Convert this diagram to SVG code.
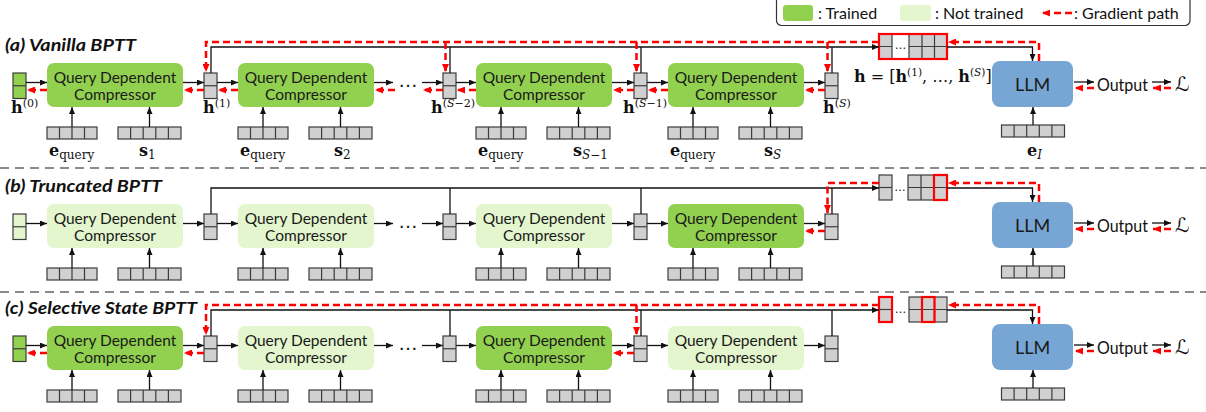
<svg xmlns="http://www.w3.org/2000/svg" xmlns:xlink="http://www.w3.org/1999/xlink" width="1206" height="412" viewBox="0 0 1206 412">
<style>
.tr{fill:#92D050}
.nt{fill:#E3F6CE}
.llm{fill:#78A6D4}
.cell{fill:#D0D0D0;stroke:#3C3C3C;stroke-width:1.2}
.cl{stroke:#3C3C3C;stroke-width:1.2;fill:none}
.bk{stroke:#111;stroke-width:1.3;fill:none}
.bka{stroke:#111;stroke-width:1.3;fill:none;marker-end:url(#ab)}
.rd{stroke:#FF0000;stroke-width:2.5;stroke-dasharray:7 4;fill:none}
.rda{stroke:#FF0000;stroke-width:2.5;stroke-dasharray:7 4;fill:none;marker-end:url(#ar)}
.ro{stroke:#FF0000;stroke-width:2.2;fill:none}
.sep{stroke:#8A8A8A;stroke-width:2;stroke-dasharray:9 6}
.ct{font-family:Lato,'Open Sans','Liberation Sans',sans-serif;font-size:15.5px;fill:#1a1a1a;text-anchor:middle}
.lt{font-family:Lato,'Open Sans','Liberation Sans',sans-serif;font-size:18px;fill:#1a1a1a;text-anchor:middle}
.lg{font-family:Lato,'Open Sans','Liberation Sans',sans-serif;font-size:16px;fill:#111}
.op{font-family:Lato,'Open Sans','Liberation Sans',sans-serif;font-size:17px;fill:#111}
.ti{font-family:Lato,'Open Sans','Liberation Sans',sans-serif;font-size:17px;font-weight:bold;font-style:italic;fill:#111}
.m{font-family:'DejaVu Serif','Liberation Serif',serif;font-size:16px;fill:#111}
.sc{font-family:'DejaVu Serif','DejaVu Sans',serif;font-size:20px;fill:#111;font-style:italic}
.dots{font-family:'Liberation Sans',sans-serif;fill:#111}
</style>
<defs>
<marker id="ab" viewBox="0 0 7 6" refX="7" refY="3" markerWidth="7" markerHeight="6" markerUnits="userSpaceOnUse" orient="auto"><path d="M0,0 L7,3 L0,6 z" fill="#111"/></marker>
<marker id="ar" viewBox="0 0 8 7" refX="8" refY="3.5" markerWidth="8" markerHeight="7" markerUnits="userSpaceOnUse" orient="auto"><path d="M0,0 L8,3.5 L0,7 z" fill="#FF0000"/></marker>
<g id="e4"><rect width="50" height="12" class="cell"/><path d="M12.5,0V12M25,0V12M37.5,0V12" class="cl"/></g>
<g id="s5"><rect width="63" height="12" class="cell"/><path d="M12.6,0V12M25.2,0V12M37.8,0V12M50.4,0V12" class="cl"/></g>
<g id="hb"><rect width="13" height="25.5" class="cell"/><path d="M0,12.75H13" class="cl"/></g>
</defs>
<rect width="1206" height="412" fill="#fff"/>

<!-- legend -->
<g id="legend">
<rect x="776.5" y="-5" width="413.5" height="30.5" rx="5" fill="#fff" stroke="#333" stroke-width="1.2"/>
<rect x="783" y="5" width="30" height="16" rx="3" class="tr"/>
<text class="lg" x="818" y="18.5">: Trained</text>
<rect x="900" y="5" width="31" height="16" rx="3" class="nt"/>
<text class="lg" x="935" y="18.5">: Not trained</text>
<path d="M1072,13 H1042" class="rda"/>
<text class="lg" x="1074" y="18.5">: Gradient path</text>
</g>

<!-- titles and separators -->
<g id="titles">
<text class="ti" x="5" y="51" textLength="131" lengthAdjust="spacingAndGlyphs">(a) Vanilla BPTT</text>
<text class="ti" x="5" y="192" textLength="157" lengthAdjust="spacingAndGlyphs">(b) Truncated BPTT</text>
<text class="ti" x="5" y="314" textLength="192" lengthAdjust="spacingAndGlyphs">(c) Selective State BPTT</text>
<line x1="0" y1="168" x2="1206" y2="168" class="sep"/>
<line x1="0" y1="292" x2="1206" y2="292" class="sep"/>
</g>

<!-- ===== panel (a) nodes ===== -->
<g id="a-h0"><rect x="13" y="73" width="13" height="25.5" fill="#92D050" stroke="#3C3C3C" stroke-width="1.2"/><path d="M13,85.75H26" class="cl"/></g>
<g id="a-comp1"><rect x="47" y="63" width="136" height="44" rx="7" class="tr"/><text class="ct" x="115" y="82.5">Query Dependent</text><text class="ct" x="115" y="99.5">Compressor</text></g>
<g id="a-h1"><use href="#hb" x="204" y="73"/></g>
<g id="a-comp2"><rect x="238" y="63" width="136" height="44" rx="7" class="tr"/><text class="ct" x="306" y="82.5">Query Dependent</text><text class="ct" x="306" y="99.5">Compressor</text></g>
<g id="a-hS2"><use href="#hb" x="443" y="73"/></g>
<g id="a-comp3"><rect x="476" y="63" width="136" height="44" rx="7" class="tr"/><text class="ct" x="544" y="82.5">Query Dependent</text><text class="ct" x="544" y="99.5">Compressor</text></g>
<g id="a-hS1"><use href="#hb" x="634" y="73"/></g>
<g id="a-comp4"><rect x="668" y="63" width="136" height="44" rx="7" class="tr"/><text class="ct" x="736" y="82.5">Query Dependent</text><text class="ct" x="736" y="99.5">Compressor</text></g>
<g id="a-hS"><use href="#hb" x="825" y="73"/></g>
<g id="a-in1e"><use href="#e4" x="47" y="127"/></g>
<g id="a-in1s"><use href="#s5" x="118" y="127"/></g>
<g id="a-in2e"><use href="#e4" x="238" y="127"/></g>
<g id="a-in2s"><use href="#s5" x="309" y="127"/></g>
<g id="a-in3e"><use href="#e4" x="476" y="127"/></g>
<g id="a-in3s"><use href="#s5" x="547" y="127"/></g>
<g id="a-in4e"><use href="#e4" x="668" y="127"/></g>
<g id="a-in4s"><use href="#s5" x="739" y="127"/></g>
<g id="a-hvec">
<rect x="879" y="34" width="68" height="25" fill="#fff"/>
<rect x="879" y="34" width="13" height="25" class="cell"/>
<rect x="909" y="34" width="38" height="25" class="cell"/>
<path d="M879,46.5H892M909,46.5H947M922,34V59M934.5,34V59" class="cl"/>
<text class="dots" x="900.5" y="49" font-size="12" text-anchor="middle">…</text>
<rect x="879" y="34" width="68" height="25" class="ro"/>
</g>
<g id="a-llm"><rect x="992" y="61" width="81" height="46" rx="8" class="llm"/><text class="lt" x="1032.5" y="90.5">LLM</text></g>
<g id="a-inI"><use href="#s5" x="1001.5" y="125"/></g>
<g id="a-out"><text class="op" x="1097" y="91" textLength="51" lengthAdjust="spacingAndGlyphs">Output</text><text class="sc" x="1175" y="91">ℒ</text></g>

<!-- panel (a) labels -->
<g id="a-labels">
<text class="m" x="11" y="113"><tspan font-weight="bold">h</tspan><tspan font-size="11" dy="-6">(0)</tspan></text>
<text class="m" x="203" y="113"><tspan font-weight="bold">h</tspan><tspan font-size="11" dy="-6">(1)</tspan></text>
<text class="m" x="431" y="113"><tspan font-weight="bold">h</tspan><tspan font-size="11" dy="-6">(<tspan font-style="italic">S</tspan>−2)</tspan></text>
<text class="m" x="623" y="113"><tspan font-weight="bold">h</tspan><tspan font-size="11" dy="-6">(<tspan font-style="italic">S</tspan>−1)</tspan></text>
<text class="m" x="823" y="113"><tspan font-weight="bold">h</tspan><tspan font-size="11" dy="-6">(<tspan font-style="italic">S</tspan>)</tspan></text>
<text class="m" x="854" y="82" font-size="15"><tspan font-weight="bold">h</tspan> = [<tspan font-weight="bold">h</tspan><tspan font-size="10.5" dy="-6">(1)</tspan><tspan dy="6">, …, </tspan><tspan font-weight="bold">h</tspan><tspan font-size="10.5" dy="-6">(<tspan font-style="italic">S</tspan>)</tspan><tspan dy="6">]</tspan></text>
<text class="m" x="49" y="156"><tspan font-weight="bold">e</tspan><tspan font-size="12" dy="3">query</tspan></text>
<text class="m" x="240" y="156"><tspan font-weight="bold">e</tspan><tspan font-size="12" dy="3">query</tspan></text>
<text class="m" x="478" y="156"><tspan font-weight="bold">e</tspan><tspan font-size="12" dy="3">query</tspan></text>
<text class="m" x="670" y="156"><tspan font-weight="bold">e</tspan><tspan font-size="12" dy="3">query</tspan></text>
<text class="m" x="139" y="156"><tspan font-weight="bold">s</tspan><tspan font-size="12" dy="3">1</tspan></text>
<text class="m" x="334" y="156"><tspan font-weight="bold">s</tspan><tspan font-size="12" dy="3">2</tspan></text>
<text class="m" x="573" y="156"><tspan font-weight="bold">s</tspan><tspan font-size="12" dy="3"><tspan font-style="italic">S</tspan>−1</tspan></text>
<text class="m" x="764" y="156"><tspan font-weight="bold">s</tspan><tspan font-size="12" dy="3" font-style="italic">S</tspan></text>
<text class="m" x="1027" y="156"><tspan font-weight="bold">e</tspan><tspan font-size="12" dy="3" font-style="italic">I</tspan></text>
</g>

<!-- ===== panel (b) nodes ===== -->
<g id="b-h0"><rect x="13" y="214" width="13" height="25.5" fill="#E3F6CE" stroke="#3C3C3C" stroke-width="1.2"/><path d="M13,226.75H26" class="cl"/></g>
<g id="b-comp1"><rect x="47" y="204" width="136" height="44" rx="7" class="nt"/><text class="ct" x="115" y="223.5">Query Dependent</text><text class="ct" x="115" y="240.5">Compressor</text></g>
<g id="b-h1"><use href="#hb" x="204" y="214"/></g>
<g id="b-comp2"><rect x="238" y="204" width="136" height="44" rx="7" class="nt"/><text class="ct" x="306" y="223.5">Query Dependent</text><text class="ct" x="306" y="240.5">Compressor</text></g>
<g id="b-hS2"><use href="#hb" x="443" y="214"/></g>
<g id="b-comp3"><rect x="476" y="204" width="136" height="44" rx="7" class="nt"/><text class="ct" x="544" y="223.5">Query Dependent</text><text class="ct" x="544" y="240.5">Compressor</text></g>
<g id="b-hS1"><use href="#hb" x="634" y="214"/></g>
<g id="b-comp4"><rect x="668" y="204" width="136" height="44" rx="7" class="tr"/><text class="ct" x="736" y="223.5">Query Dependent</text><text class="ct" x="736" y="240.5">Compressor</text></g>
<g id="b-hS"><use href="#hb" x="825" y="214"/></g>
<g id="b-in1e"><use href="#e4" x="47" y="268"/></g>
<g id="b-in1s"><use href="#s5" x="118" y="268"/></g>
<g id="b-in2e"><use href="#e4" x="238" y="268"/></g>
<g id="b-in2s"><use href="#s5" x="309" y="268"/></g>
<g id="b-in3e"><use href="#e4" x="476" y="268"/></g>
<g id="b-in3s"><use href="#s5" x="547" y="268"/></g>
<g id="b-in4e"><use href="#e4" x="668" y="268"/></g>
<g id="b-in4s"><use href="#s5" x="739" y="268"/></g>
<g id="b-hvec">
<rect x="879" y="175" width="13" height="25" class="cell"/>
<path d="M879,187.5H892" class="cl"/>
<text class="dots" x="900" y="191" font-size="12" text-anchor="middle">…</text>
<rect x="908" y="175" width="39" height="25" class="cell"/>
<path d="M908,187.5H947M921,175V200M934,175V200" class="cl"/>
<rect x="934" y="175" width="13" height="25" class="ro"/>
</g>
<g id="b-llm"><rect x="992" y="202" width="81" height="46" rx="8" class="llm"/><text class="lt" x="1032.5" y="231.5">LLM</text></g>
<g id="b-inI"><use href="#s5" x="1001.5" y="266"/></g>
<g id="b-out"><text class="op" x="1097" y="232" textLength="51" lengthAdjust="spacingAndGlyphs">Output</text><text class="sc" x="1175" y="232">ℒ</text></g>

<!-- ===== panel (c) nodes ===== -->
<g id="c-h0"><rect x="13" y="336" width="13" height="25.5" fill="#92D050" stroke="#3C3C3C" stroke-width="1.2"/><path d="M13,348.75H26" class="cl"/></g>
<g id="c-comp1"><rect x="47" y="326" width="136" height="44" rx="7" class="tr"/><text class="ct" x="115" y="345.5">Query Dependent</text><text class="ct" x="115" y="362.5">Compressor</text></g>
<g id="c-h1"><use href="#hb" x="204" y="336"/></g>
<g id="c-comp2"><rect x="238" y="326" width="136" height="44" rx="7" class="nt"/><text class="ct" x="306" y="345.5">Query Dependent</text><text class="ct" x="306" y="362.5">Compressor</text></g>
<g id="c-hS2"><use href="#hb" x="443" y="336"/></g>
<g id="c-comp3"><rect x="476" y="326" width="136" height="44" rx="7" class="tr"/><text class="ct" x="544" y="345.5">Query Dependent</text><text class="ct" x="544" y="362.5">Compressor</text></g>
<g id="c-hS1"><use href="#hb" x="634" y="336"/></g>
<g id="c-comp4"><rect x="668" y="326" width="136" height="44" rx="7" class="nt"/><text class="ct" x="736" y="345.5">Query Dependent</text><text class="ct" x="736" y="362.5">Compressor</text></g>
<g id="c-hS"><use href="#hb" x="825" y="336"/></g>
<g id="c-in1e"><use href="#e4" x="47" y="390"/></g>
<g id="c-in1s"><use href="#s5" x="118" y="390"/></g>
<g id="c-in2e"><use href="#e4" x="238" y="390"/></g>
<g id="c-in2s"><use href="#s5" x="309" y="390"/></g>
<g id="c-in3e"><use href="#e4" x="476" y="390"/></g>
<g id="c-in3s"><use href="#s5" x="547" y="390"/></g>
<g id="c-in4e"><use href="#e4" x="668" y="390"/></g>
<g id="c-in4s"><use href="#s5" x="739" y="390"/></g>
<g id="c-hvec">
<rect x="879" y="297" width="13" height="25" class="cell"/>
<path d="M879,309.5H892" class="cl"/>
<rect x="879" y="297" width="13" height="25" class="ro"/>
<text class="dots" x="900.5" y="313" font-size="12" text-anchor="middle">…</text>
<rect x="909" y="297" width="38" height="25" class="cell"/>
<path d="M909,309.5H947M922,297V322M934.5,297V322" class="cl"/>
<rect x="922" y="297" width="12.5" height="25" class="ro"/>
</g>
<g id="c-llm"><rect x="992" y="324" width="81" height="46" rx="8" class="llm"/><text class="lt" x="1032.5" y="353.5">LLM</text></g>
<g id="c-inI"><use href="#s5" x="1001.5" y="388"/></g>
<g id="c-out"><text class="op" x="1097" y="354" textLength="51" lengthAdjust="spacingAndGlyphs">Output</text><text class="sc" x="1175" y="354">ℒ</text></g>

<!-- ===== connectors ===== -->
<g id="connectors">
<!-- (a) inputs -->
<path class="bka" d="M72,127V107"/><path class="bka" d="M149.5,127V107"/>
<path class="bka" d="M263,127V107"/><path class="bka" d="M340.5,127V107"/>
<path class="bka" d="M501,127V107"/><path class="bka" d="M578.5,127V107"/>
<path class="bka" d="M693,127V107"/><path class="bka" d="M770.5,127V107"/>
<path class="bka" d="M1033,125V107"/>
<!-- (a) flow -->
<path class="bka" d="M26,82.5H47"/><path class="bka" d="M183,82.5H204"/><path class="bka" d="M217,82.5H238"/>
<path class="bka" d="M374,82.5H393"/><path class="bka" d="M422,82.5H443"/><path class="bka" d="M456,82.5H476"/>
<path class="bka" d="M612,82.5H634"/><path class="bka" d="M647,82.5H668"/><path class="bka" d="M804,82.5H825"/>
<text class="dots" x="398" y="87" font-size="20">…</text>
<!-- (a) top -->
<path class="bka" d="M211,73V47H879"/>
<path class="bk" d="M450,73V47M641,73V47M832,73V47"/>
<path class="bka" d="M947,47H1032.5V61"/>
<!-- (a) red -->
<path class="rda" d="M47,90H27"/><path class="rda" d="M204,90H184"/><path class="rda" d="M238,90H218"/>
<path class="rda" d="M395,90H375"/><path class="rda" d="M443,90H423"/><path class="rda" d="M476,90H457"/>
<path class="rda" d="M634,90H613"/><path class="rda" d="M668,90H648"/><path class="rda" d="M825,90H805"/>
<path class="rda" d="M879,42H206V72"/>
<path class="rda" d="M445.5,42V72"/><path class="rda" d="M636.5,42V72"/><path class="rda" d="M827.5,42V72"/>
<path class="rda" d="M1039,61V42H948"/>
<!-- (a) output -->
<path class="bka" d="M1074,82H1094"/><path class="rda" d="M1094,88H1075"/>
<path class="bka" d="M1152,82H1171"/><path class="rda" d="M1171,88H1153"/>

<!-- (b) inputs -->
<path class="bka" d="M72,268V248"/><path class="bka" d="M149.5,268V248"/>
<path class="bka" d="M263,268V248"/><path class="bka" d="M340.5,268V248"/>
<path class="bka" d="M501,268V248"/><path class="bka" d="M578.5,268V248"/>
<path class="bka" d="M693,268V248"/><path class="bka" d="M770.5,268V248"/>
<path class="bka" d="M1033,266V248"/>
<!-- (b) flow -->
<path class="bka" d="M26,223.5H47"/><path class="bka" d="M183,223.5H204"/><path class="bka" d="M217,223.5H238"/>
<path class="bka" d="M374,223.5H393"/><path class="bka" d="M422,223.5H443"/><path class="bka" d="M456,223.5H476"/>
<path class="bka" d="M612,223.5H634"/><path class="bka" d="M647,223.5H668"/><path class="bka" d="M804,223.5H825"/>
<text class="dots" x="398" y="228" font-size="20">…</text>
<!-- (b) top -->
<path class="bka" d="M211,214V188H879"/>
<path class="bk" d="M450,214V188M641,214V188M832,214V188"/>
<path class="bka" d="M947,188H1032.5V202"/>
<!-- (b) red -->
<path class="rda" d="M825,231H805"/>
<path class="rda" d="M879,183H827.5V213"/>
<path class="rda" d="M1039,202V183H948"/>
<!-- (b) output -->
<path class="bka" d="M1074,223H1094"/><path class="rda" d="M1094,229H1075"/>
<path class="bka" d="M1152,223H1171"/><path class="rda" d="M1171,229H1153"/>

<!-- (c) inputs -->
<path class="bka" d="M72,390V370"/><path class="bka" d="M149.5,390V370"/>
<path class="bka" d="M263,390V370"/><path class="bka" d="M340.5,390V370"/>
<path class="bka" d="M501,390V370"/><path class="bka" d="M578.5,390V370"/>
<path class="bka" d="M693,390V370"/><path class="bka" d="M770.5,390V370"/>
<path class="bka" d="M1033,388V370"/>
<!-- (c) flow -->
<path class="bka" d="M26,345.5H47"/><path class="bka" d="M183,345.5H204"/><path class="bka" d="M217,345.5H238"/>
<path class="bka" d="M374,345.5H393"/><path class="bka" d="M422,345.5H443"/><path class="bka" d="M456,345.5H476"/>
<path class="bka" d="M612,345.5H634"/><path class="bka" d="M647,345.5H668"/><path class="bka" d="M804,345.5H825"/>
<text class="dots" x="398" y="350" font-size="20">…</text>
<!-- (c) top -->
<path class="bka" d="M211,336V310H879"/>
<path class="bk" d="M450,336V310M641,336V310M832,336V310"/>
<path class="bka" d="M947,310H1032.5V324"/>
<!-- (c) red -->
<path class="rda" d="M47,353H27"/><path class="rda" d="M204,353H184"/><path class="rda" d="M634,353H613"/>
<path class="rda" d="M879,305H206V335"/>
<path class="rda" d="M636.5,305V335"/>
<path class="rda" d="M1039,324V305H948"/>
<!-- (c) output -->
<path class="bka" d="M1074,345H1094"/><path class="rda" d="M1094,351H1075"/>
<path class="bka" d="M1152,345H1171"/><path class="rda" d="M1171,351H1153"/>
</g>
</svg>
